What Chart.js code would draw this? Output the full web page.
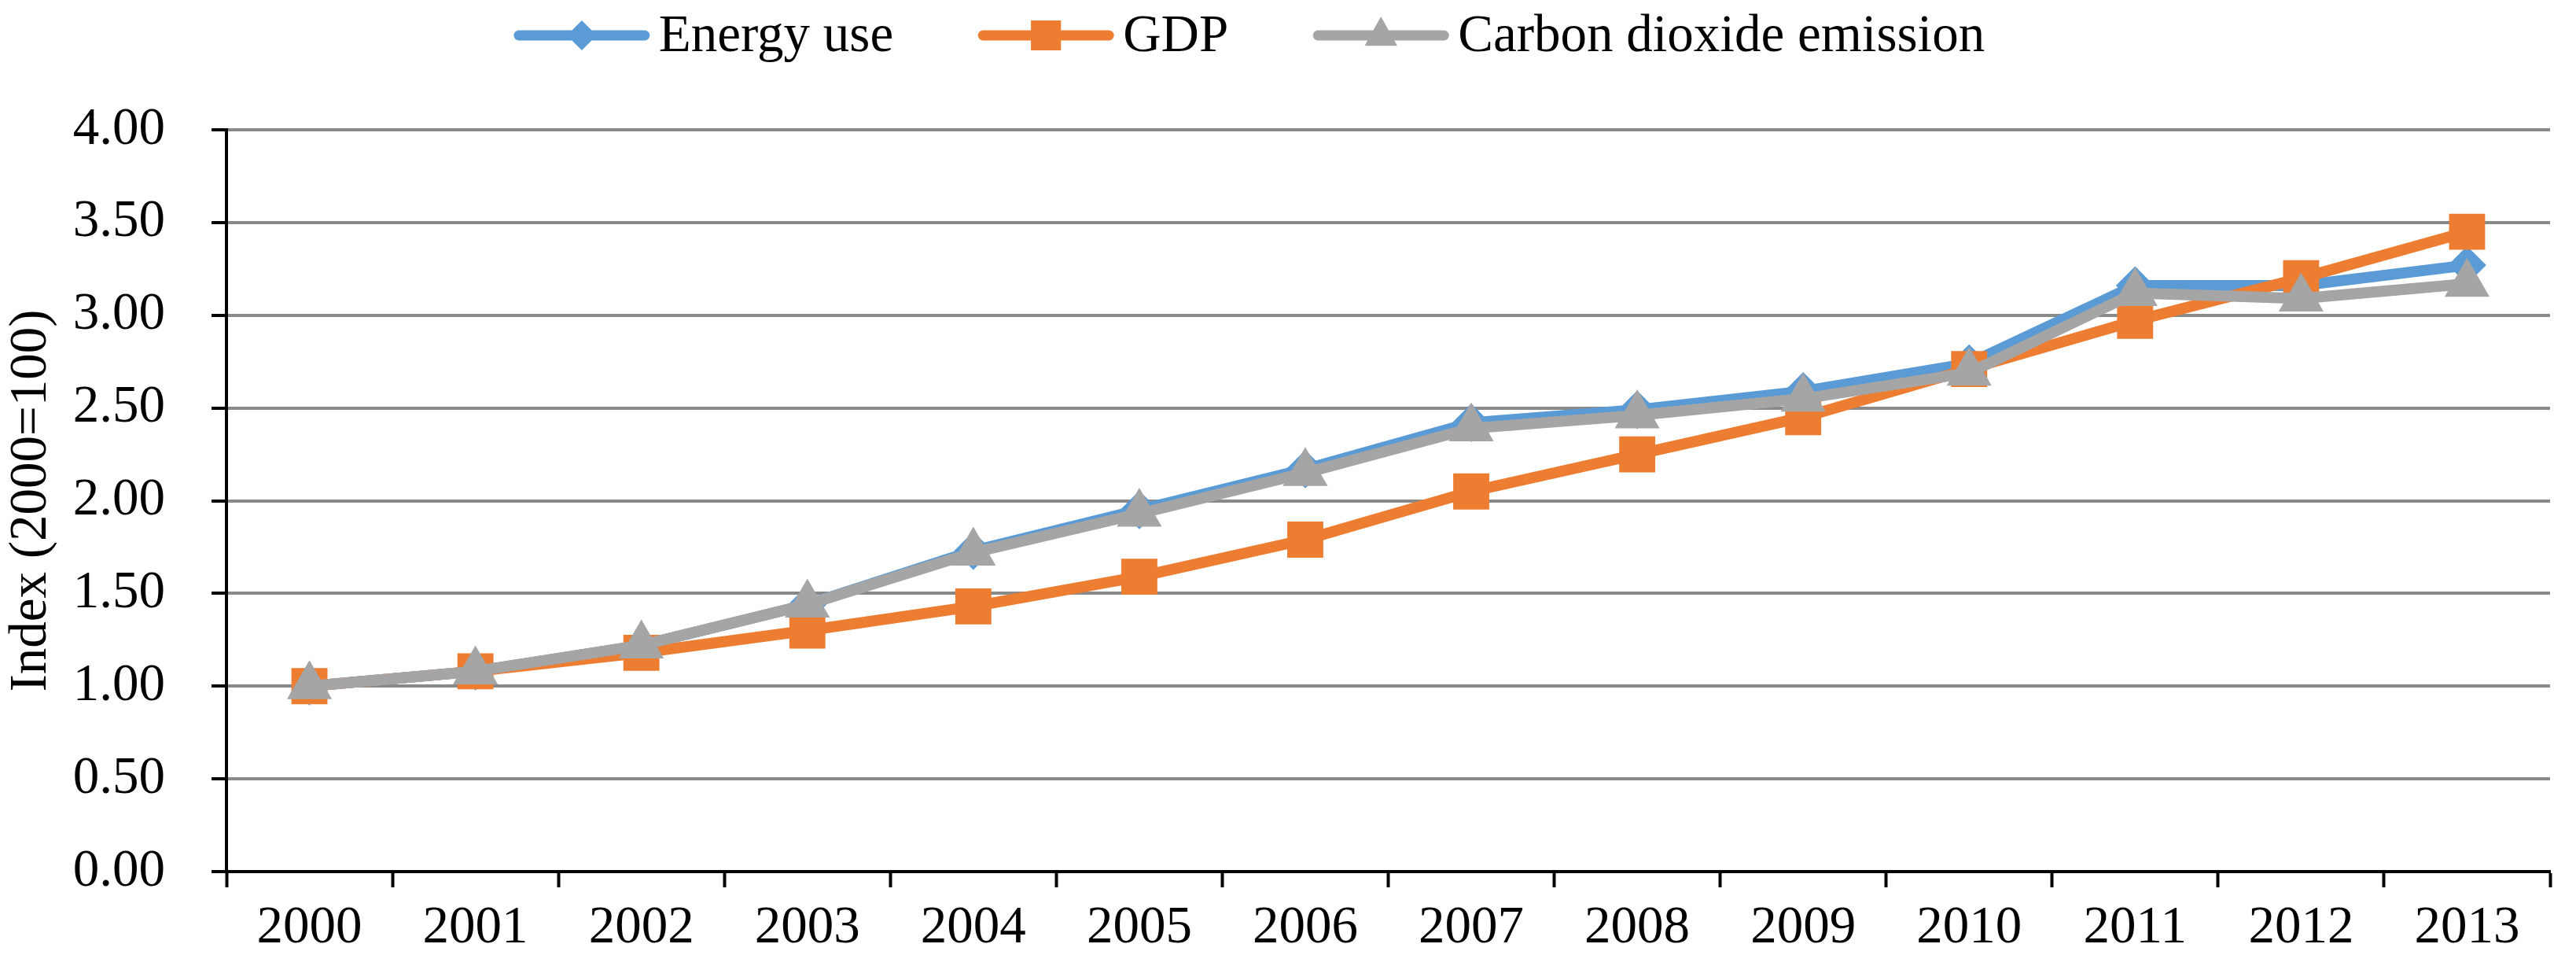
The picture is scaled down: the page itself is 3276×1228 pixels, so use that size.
<!DOCTYPE html>
<html>
<head>
<meta charset="utf-8">
<script src="https://cdn.jsdelivr.net/npm/chart.js@4/dist/chart.umd.min.js"></script>
<style>
    html, body { margin: 0; padding: 0; background: #fff; }
    #wrap { width: 3276px; height: 1228px; position: relative; }
</style>
</head>
<body>
<div id="wrap"><canvas id="index-chart"></canvas></div>
<script>
// values (index, 2000 = 1.00)
const years = ['2000', '2001', '2002', '2003', '2004', '2005', '2006', '2007', '2008', '2009', '2010', '2011', '2012', '2013'];
const energyUse = [1.00, 1.08, 1.22, 1.44, 1.73, 1.95, 2.17, 2.42, 2.49, 2.59, 2.74, 3.16, 3.16, 3.27];
const gdp = [1.00, 1.08, 1.18, 1.30, 1.43, 1.59, 1.79, 2.05, 2.25, 2.45, 2.71, 2.97, 3.20, 3.45];
const co2Emission = [1.00, 1.08, 1.22, 1.44, 1.72, 1.93, 2.15, 2.39, 2.46, 2.55, 2.69, 3.12, 3.09, 3.17];
const seriesNames = ['Energy use', 'GDP', 'Carbon dioxide emission'];
const yTicks = [0, 0.5, 1, 1.5, 2, 2.5, 3, 3.5, 4];

const FONT = "'Times New Roman', 'Liberation Serif', serif";
const BLUE = '#5B9BD5';
const ORANGE = '#ED7D31';
const GREY = '#A5A5A5';

Chart.defaults.color = '#000';
Chart.defaults.font.family = FONT;
Chart.defaults.font.size = 67;

// small marker painter for the legend
function drawMarker(ctx, style, x, y, r, color) {
    ctx.save();
    ctx.fillStyle = color;
    ctx.beginPath();
    if (style === 'rectRot') {
        ctx.moveTo(x, y - r); ctx.lineTo(x + r, y); ctx.lineTo(x, y + r); ctx.lineTo(x - r, y);
    } else if (style === 'rect') {
        const s = r * Math.SQRT1_2;
        ctx.rect(x - s, y - s, 2 * s, 2 * s);
    } else {
        ctx.moveTo(x, y - r);
        ctx.lineTo(x + r * 0.866, y + r * 0.5 * 1.1);
        ctx.lineTo(x - r * 0.866, y + r * 0.5 * 1.1);
    }
    ctx.closePath();
    ctx.fill();
    ctx.restore();
}

// Excel-like legend: line + marker + text, centred above the plot
const lineLegend = {
    id: 'lineLegend',
    afterDraw(chart, args, opts) {
        const ctx = chart.ctx;
        const sets = chart.data.datasets;
        ctx.save();
        ctx.font = opts.fontSize + 'px ' + FONT;
        const widths = sets.map(ds => opts.lineLen + opts.textGap + ctx.measureText(ds.label).width);
        const total = widths.reduce((a, b) => a + b, 0) + opts.itemGap * (sets.length - 1);
        let x = opts.centerX - total / 2;
        const y = opts.y;
        sets.forEach((ds, i) => {
            ctx.strokeStyle = ds.borderColor;
            ctx.lineWidth = 13;
            ctx.lineCap = 'round';
            ctx.beginPath();
            ctx.moveTo(x + 6, y);
            ctx.lineTo(x + opts.lineLen - 6, y);
            ctx.stroke();
            drawMarker(ctx, ds.pointStyle, x + opts.lineLen / 2, y, opts.markerR[i], ds.borderColor);
            ctx.fillStyle = '#000';
            ctx.textBaseline = 'middle';
            ctx.textAlign = 'left';
            ctx.fillText(ds.label, x + opts.lineLen + opts.textGap, y + 2);
            x += widths[i] + opts.itemGap;
        });
        ctx.restore();
    }
};

const ctx = document.getElementById('index-chart');

new Chart(ctx, {
    type: 'line',
    data: {
        labels: years,
        datasets: [
            {
                label: seriesNames[0],
                data: energyUse,
                borderColor: BLUE,
                backgroundColor: BLUE,
                borderWidth: 14,
                pointStyle: 'rectRot',
                pointRadius: 23,
                pointBorderWidth: 2,
                order: 3
            },
            {
                label: seriesNames[1],
                data: gdp,
                borderColor: ORANGE,
                backgroundColor: ORANGE,
                borderWidth: 14,
                pointStyle: 'rect',
                pointRadius: 31,
                pointBorderWidth: 2,
                order: 2
            },
            {
                label: seriesNames[2],
                data: co2Emission,
                borderColor: GREY,
                backgroundColor: GREY,
                borderWidth: 14,
                pointStyle: 'triangle',
                pointRadius: 31,
                pointBorderWidth: 2,
                order: 1
            }
        ]
    },
    options: {
        responsive: true,
        maintainAspectRatio: false,
        animation: false,
        layout: { padding: { top: 165, right: 30, left: 0, bottom: 0 } },
        plugins: {
            legend: { display: false },
            tooltip: { enabled: false },
            lineLegend: {
                centerX: 1589,
                y: 45,
                fontSize: 67,
                lineLen: 172,
                textGap: 12,
                itemGap: 108,
                markerR: [19, 27, 24]
            }
        },
        scales: {
            x: {
                offset: true,
                grid: {
                    offset: true,
                    drawOnChartArea: false,
                    tickLength: 20,
                    tickColor: '#000',
                    tickWidth: 4
                },
                border: { color: '#000', width: 4 },
                ticks: { padding: 12, maxRotation: 0, autoSkip: false, font: { size: 67 } },
                afterFit: scale => { scale.height = 120; }
            },
            y: {
                min: 0,
                max: 4,
                afterBuildTicks: scale => { scale.ticks = yTicks.map(v => ({ value: v })); },
                grid: {
                    color: '#898989',
                    lineWidth: 4,
                    tickLength: 19,
                    tickColor: '#000',
                    tickWidth: 4
                },
                border: { color: '#000', width: 4 },
                ticks: {
                    padding: 59,
                    font: { size: 67 },
                    callback: v => Number(v).toFixed(2)
                },
                title: {
                    display: true,
                    text: 'Index (2000=100)',
                    font: { size: 67 },
                    padding: { top: 0, bottom: 0 }
                },
                afterFit: scale => { scale.width = 288; }
            }
        }
    },
    plugins: [lineLegend]
});
</script>
</body>
</html>
